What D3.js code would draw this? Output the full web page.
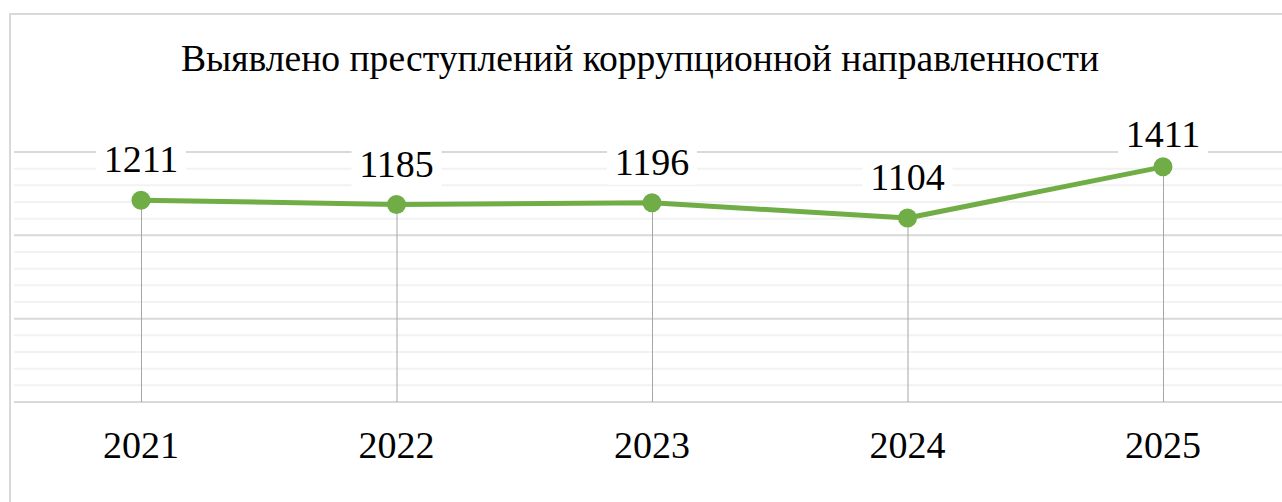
<!DOCTYPE html>
<html>
<head>
<meta charset="utf-8">
<script src="https://cdn.jsdelivr.net/npm/d3@7"></script>
<style>
  body { margin: 0; background: #fff; }
</style>
</head>
<body>
<svg width="1282" height="502"></svg>
<script>
// Data
const years = ['2021', '2022', '2023', '2024', '2025'];
const values = [1211, 1185, 1196, 1104, 1411];
const title = 'Выявлено преступлений коррупционной направленности';

const font = "'Liberation Serif', 'Times New Roman', Times, 'DejaVu Serif', serif";

const svg = d3.select('svg'),
  width = +svg.attr('width'),
  height = +svg.attr('height');

// chart frame (cropped on the right and bottom)
svg.append('rect')
  .attr('x', 10).attr('y', 14)
  .attr('width', width + 20).attr('height', height + 20)
  .attr('fill', '#fff')
  .attr('stroke', '#d9d9d9')
  .attr('stroke-width', 2);

// scales
const x = d3.scaleBand().domain(years).range([13.25, 1290.75]);
const cx = d => x(d) + x.bandwidth() / 2;
const y = d3.scaleLinear().domain([0, 1500]).range([402, 152]);

// minor gridlines
const majors = y.ticks(3);
const minors = d3.range(0, 1501, 100).filter(v => !majors.includes(v));
svg.append('g')
  .selectAll('line')
  .data(minors)
  .enter()
  .append('line')
  .attr('x1', 14).attr('x2', width)
  .attr('y1', d => y(d)).attr('y2', d => y(d))
  .attr('stroke', '#f2f2f2')
  .attr('stroke-width', 2);

// major gridlines
svg.append('g')
  .selectAll('line')
  .data(majors)
  .enter()
  .append('line')
  .attr('x1', 14).attr('x2', width)
  .attr('y1', d => y(d)).attr('y2', d => y(d))
  .attr('stroke', '#d9d9d9')
  .attr('stroke-width', 2);

// title
svg.append('text')
  .attr('x', 640)
  .attr('y', 71)
  .attr('text-anchor', 'middle')
  .attr('font-family', font)
  .attr('font-size', 37.6)
  .text(title);

// data labels with white boxes
const labelBase = v => Math.max(y(v) - 28, 147);
const labels = svg.append('g')
  .selectAll('g')
  .data(values)
  .enter()
  .append('g');
labels.append('rect')
  .attr('x', (d, i) => cx(years[i]) - 45)
  .attr('y', d => labelBase(d) - 34)
  .attr('width', 90)
  .attr('height', 44)
  .attr('fill', '#fff');
labels.append('text')
  .attr('x', (d, i) => cx(years[i]))
  .attr('y', d => labelBase(d))
  .attr('text-anchor', 'middle')
  .attr('font-family', font)
  .attr('font-size', 38)
  .text(d => d);

// drop lines
svg.append('g')
  .selectAll('line')
  .data(values)
  .enter()
  .append('line')
  .attr('x1', (d, i) => cx(years[i]) + 0.5)
  .attr('x2', (d, i) => cx(years[i]) + 0.5)
  .attr('y1', d => y(d))
  .attr('y2', y(0))
  .attr('stroke', '#a6a6a6')
  .attr('stroke-width', 1);

// series line
const line = d3.line()
  .x((d, i) => cx(years[i]))
  .y(d => y(d));
svg.append('path')
  .datum(values)
  .attr('d', line)
  .attr('fill', 'none')
  .attr('stroke', '#70ad47')
  .attr('stroke-width', 5)
  .attr('stroke-linejoin', 'round');

// markers
svg.append('g')
  .selectAll('circle')
  .data(values)
  .enter()
  .append('circle')
  .attr('cx', (d, i) => cx(years[i]))
  .attr('cy', d => y(d))
  .attr('r', 9.5)
  .attr('fill', '#70ad47');

// category labels
svg.append('g')
  .selectAll('text')
  .data(years)
  .enter()
  .append('text')
  .attr('x', d => cx(d))
  .attr('y', 458)
  .attr('text-anchor', 'middle')
  .attr('font-family', font)
  .attr('font-size', 38)
  .text(d => d);
</script>
</body>
</html>
